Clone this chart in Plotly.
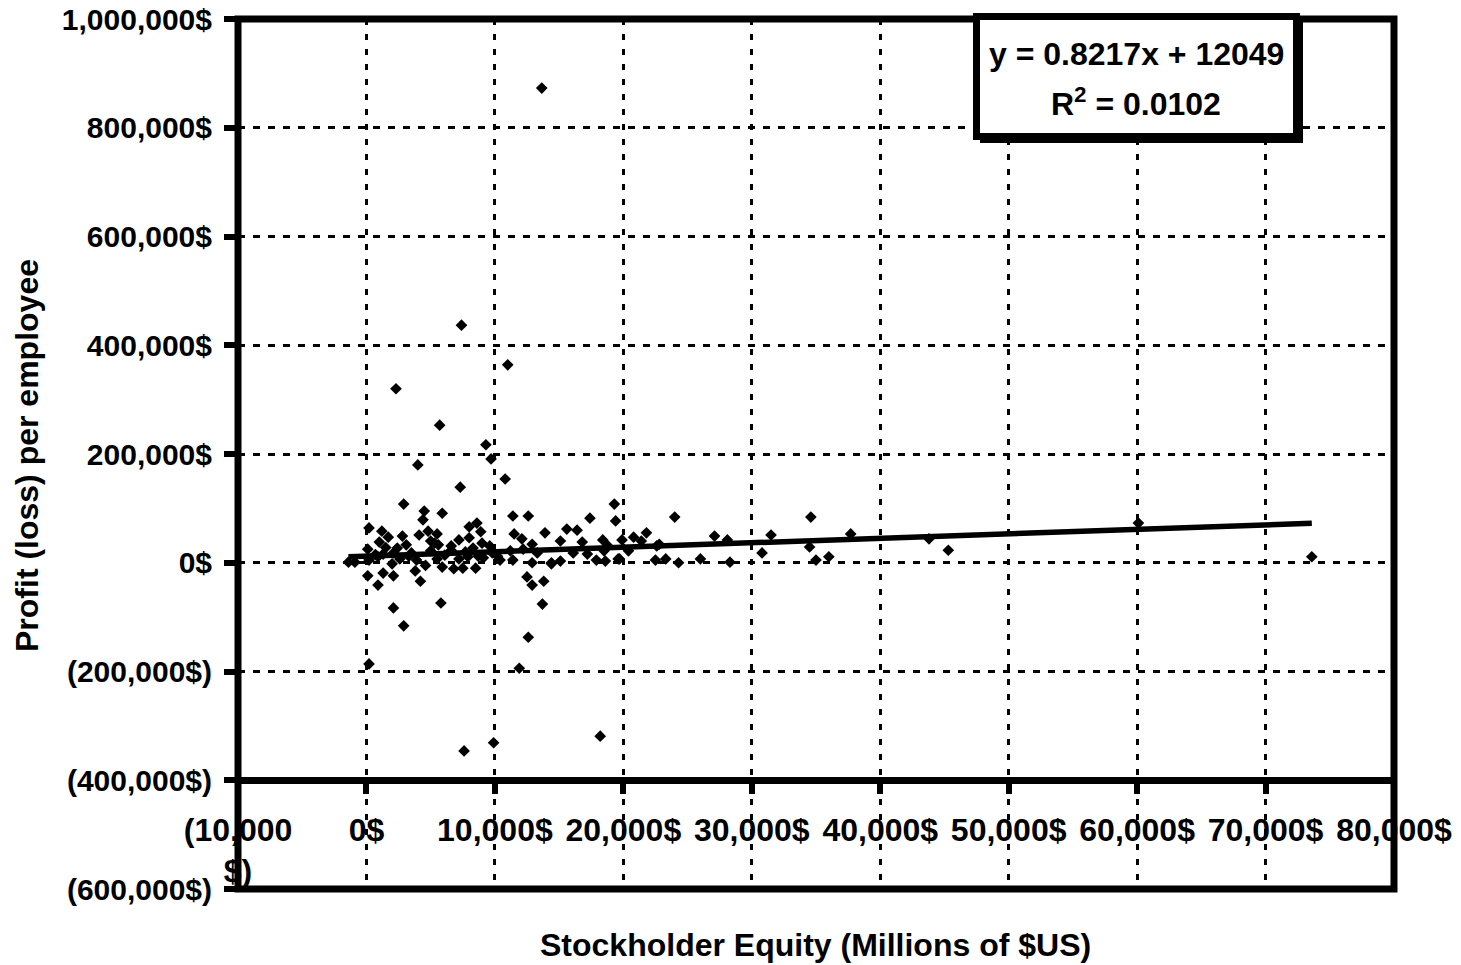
import plotly.graph_objects as go

# stockholder equity (millions $US) and profit per employee ($)
equity = [
    13650, 7400, 11000, 2300, 5700, 9300, 9700, 4000, 10800, 7300,
    2900, 4500, 5900, 19300, 19400, 17400, 11400, 12600, 200, 1200,
    2800, 4400, 4800, 5500, 8000, 8600, 8900, 1700, 1000, 100,
    3100, 4100, 5000, 5600, 6600, 7200, 8000, 9000, 9600, 11500,
    12100, 12900, 13900, 15100, 15600, 16400, 16800, 18400, 18800, 19900,
    20800, 21400, 21800, 22600, -1400, -900, 200, 900, 1300, 2100,
    2600, 3500, 3900, 5000, 5500, 5900, 6600, 7200, 7900, 8300,
    8700, 9100, 10400, 11200, 11400, 12200, 12900, 13300, 14400, 15100,
    16100, 17200, 17900, 18600, 19600, 20400, 22500, 100, 1300, 2000,
    900, 2100, 3800, 4200, 6800, 7500, 8500, 12500, 12900, 13800,
    14400, 2100, 2900, 5800, 12600, 13700, 200, 11900, 7600, 9900,
    18200, 24000, 34600, 22800, 18500, 19700, 23300, 24300, 26000, 27100,
    28100, 28300, 30800, 31500, 34500, 35000, 36000, 37700, 43800, 45300,
    60100, 73600, 1500, 3300, 6100, 4600, 700, 9800, 10200, 2400,
    5300, 7700,
]
profit = [
    873000, 437000, 364000, 320000, 253000, 217000, 191000, 180000, 154000, 139000,
    108000, 95000, 91000, 108000, 77000, 82000, 86000, 86000, 64000, 58000,
    49000, 79000, 58000, 53000, 66000, 73000, 57000, 47000, 38000, 25000,
    33000, 51000, 40000, 33000, 31000, 42000, 46000, 36000, 31000, 53000,
    44000, 34000, 55000, 40000, 62000, 60000, 38000, 42000, 31000, 42000,
    47000, 40000, 55000, 31000, 1000, 1000, 5000, 11000, 16000, 18000,
    7000, 18000, 5000, 22000, 7000, -8000, 23000, 7000, 11000, 27000,
    12000, 9000, 5000, 22000, 5000, 25000, 0, 18000, 0, 3000,
    18000, 16000, 5000, 3000, 7000, 22000, 5000, -24000, -19000, -2000,
    -41000, -24000, -15000, -34000, -11000, -10000, -10000, -26000, -41000, -34000,
    -2000, -83000, -116000, -74000, -137000, -76000, -186000, -194000, -346000, -331000,
    -319000, 84000, 84000, 34000, 22000, 7000, 7000, 0, 7000, 49000,
    42000, 1000, 18000, 51000, 29000, 5000, 11000, 53000, 44000, 23000,
    73000, 11000, 28000, 12000, 14000, -5000, 15000, 18000, 12000, 27000,
    36000, 20000,
]

slope, intercept = 0.8217, 12049
trend_x = [min(equity), max(equity)]
trend_y = [slope * v + intercept for v in trend_x]

x_ticks = [-10000, 0, 10000, 20000, 30000, 40000, 50000, 60000, 70000, 80000]
x_labels = ["(10,000<br>$)", "0$", "10,000$", "20,000$", "30,000$", "40,000$",
            "50,000$", "60,000$", "70,000$", "80,000$"]
y_ticks = [1000000, 800000, 600000, 400000, 200000, 0, -200000, -400000, -600000]
y_labels = ["1,000,000$", "800,000$", "600,000$", "400,000$", "200,000$", "0$",
            "(200,000$)", "(400,000$)", "(600,000$)"]

# page body adds an 8px margin, so the figure is a bit smaller than the window
OFF = 8
W, H = 1461 - OFF, 965 - OFF
L, R, T, B = 238, 1394, 19, 889   # plot area in window pixels
FONT = "Arial, Liberation Sans, sans-serif"


def px(x):
    return (x - L) / (R - L)


def py(y):
    return (B - y) / (B - T)


fig = go.Figure()
fig.add_trace(go.Scatter(
    x=equity, y=profit, mode="markers",
    marker=dict(symbol="diamond", size=9, color="black"),
    showlegend=False,
))
fig.add_trace(go.Scatter(
    x=trend_x, y=trend_y, mode="lines",
    line=dict(color="black", width=5.5),
    showlegend=False,
))

fig.update_layout(
    width=W, height=H,
    margin=dict(l=L - OFF, r=W - (R - OFF), t=T - OFF, b=H - (B - OFF), autoexpand=False),
    paper_bgcolor="white", plot_bgcolor="white",
    font=dict(family=FONT, color="black"),
    xaxis=dict(
        range=[-10000, 80000], tickvals=x_ticks, ticktext=x_labels,
        anchor="free", position=0.125, automargin=False,
        showline=True, linewidth=7, linecolor="black",
        ticks="outside", ticklen=10, tickwidth=6, tickcolor="black",
        showgrid=True, gridcolor="black", gridwidth=3, griddash="6px,9px",
        zeroline=False, ticklabelstandoff=8, ticklabeloverflow="allow",
        tickfont=dict(size=32, weight="bold", family=FONT),
    ),
    yaxis=dict(
        range=[-600000, 1000000], tickvals=y_ticks, ticktext=y_labels,
        showline=False, automargin=False,
        ticks="outside", ticklen=13, tickwidth=6, tickcolor="black",
        showgrid=True, gridcolor="black", gridwidth=3, griddash="7px,8px",
        zeroline=False, ticklabelstandoff=6, ticklabeloverflow="allow",
        tickfont=dict(size=30, weight="bold", family=FONT),
    ),
)

# plot border
fig.add_shape(type="rect", xref="x domain", yref="y domain",
              x0=0, x1=1, y0=0, y1=1, line=dict(color="black", width=7),
              layer="above")

# equation box with shadow
fig.add_shape(type="rect", xref="paper", yref="paper",
              x0=px(980), x1=px(1303), y0=py(143), y1=py(20),
              fillcolor="black", line=dict(width=0), layer="above")
fig.add_shape(type="rect", xref="paper", yref="paper",
              x0=px(976.5), x1=px(1296.5), y0=py(136.5), y1=py(16.5),
              fillcolor="white", line=dict(color="black", width=7), layer="above")
fig.add_annotation(xref="paper", yref="paper", x=px(1136), y=py(54),
                   xanchor="center", yanchor="middle",
                   text="y = 0.8217x + 12049", showarrow=False,
                   font=dict(size=32, weight="bold", family=FONT))
fig.add_annotation(xref="paper", yref="paper", x=px(1136), y=py(102),
                   xanchor="center", yanchor="middle",
                   text="R<sup>2</sup> = 0.0102", showarrow=False,
                   font=dict(size=32, weight="bold", family=FONT))

# axis titles
fig.add_annotation(xref="paper", yref="paper", x=px(815), y=py(945),
                   xanchor="center", yanchor="middle",
                   text="Stockholder Equity (Millions of $US)", showarrow=False,
                   font=dict(size=32, weight="bold", family=FONT))
fig.add_annotation(xref="paper", yref="paper", x=px(27), y=py(456),
                   xanchor="center", yanchor="middle",
                   text="Profit (loss) per employee", showarrow=False, textangle=-90,
                   font=dict(size=32, weight="bold", family=FONT))

fig.write_html("out.html")
